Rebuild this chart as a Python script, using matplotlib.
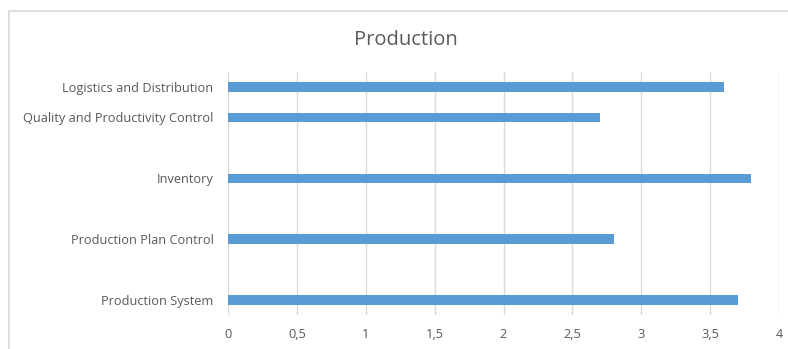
import matplotlib
matplotlib.use("Agg")
import matplotlib.pyplot as plt
from matplotlib.patches import Rectangle
import numpy as np

categories = ["Production System", "", "Production Plan Control", "", "Inventory", "",
              "Quality and Productivity Control", "Logistics and Distribution"]
values = [3.7, None, 2.8, None, 3.8, None, 2.7, 3.6]
x_ticks = [0, 0.5, 1, 1.5, 2, 2.5, 3, 3.5, 4]
x_labels = ["0", "0,5", "1", "1,5", "2", "2,5", "3", "3,5", "4"]
title = "Production"

plt.rcParams['font.family'] = ['Open Sans', 'DejaVu Sans']

W, H = 788, 349
fig = plt.figure(figsize=(W / 100, H / 100), dpi=100)
fig.patch.set_facecolor('white')

# chart area border
fig.patches.append(Rectangle((9 / W, -0.02), 1.05, 1 - 10.5 / H + 0.02,
                             transform=fig.transFigure, fill=False,
                             edgecolor='#D9D9D9', linewidth=1.2))

ax = fig.add_axes([228 / W, (H - 315.2) / H, 551 / W, 243.4 / H])
pos = np.arange(len(categories))
vals = np.array([np.nan if v is None else v for v in values], dtype=float)
ax.barh(pos, np.nan_to_num(vals), height=0.305, color='#5B9BD5', zorder=3)

ax.set_xlim(0, 4)
ax.set_ylim(-0.5, len(categories) - 0.5)
ax.set_xticks(x_ticks)
ax.set_xticklabels(x_labels)
ax.set_yticks(pos)
ax.set_yticklabels(categories)
ax.tick_params(axis='both', length=0, labelsize=9.2, labelcolor='#595959')
ax.tick_params(axis='y', pad=10.5)
ax.tick_params(axis='x', pad=9.5)
ax.grid(axis='x', color='#D9D9D9', linewidth=1.0, zorder=0)
for s in ['top', 'right', 'bottom', 'left']:
    ax.spines[s].set_visible(False)

fig.text(406 / W, 1 - 40 / H, title, ha='center', va='center',
         fontsize=14.5, color='#595959')

fig.savefig('out.png', dpi=100, facecolor='white')
